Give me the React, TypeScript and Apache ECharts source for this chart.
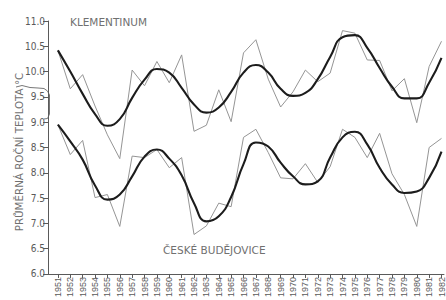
import React, { useEffect, useRef } from "react";
import * as echarts from "echarts";

const years = [1951,1952,1953,1954,1955,1956,1957,1958,1959,1960,1961,1962,1963,1964,1965,1966,1967,1968,1969,1970,1971,1972,1973,1974,1975,1976,1977,1978,1979,1980,1981,1982];

const klementinumAnnual = [10.42,9.66,9.94,9.32,8.75,8.28,10.03,9.72,10.2,9.78,10.33,8.82,8.94,9.64,9.01,10.37,10.63,9.85,9.3,9.6,10.03,9.8,9.97,10.81,10.76,10.23,10.22,9.62,9.86,8.99,10.1,10.6];
const klementinumSmooth = [10.42,10.0,9.56,9.16,8.93,9.06,9.48,9.84,10.05,9.98,9.68,9.35,9.19,9.29,9.6,9.98,10.13,9.98,9.66,9.52,9.58,9.85,10.29,10.68,10.72,10.47,10.07,9.7,9.47,9.47,9.78,10.27];

const budejoviceAnnual = [8.95,8.36,8.64,7.51,7.57,6.94,8.33,8.3,8.46,8.1,8.3,6.78,6.95,7.4,7.33,8.7,8.86,8.4,7.9,7.88,8.18,7.81,8.12,8.86,8.7,8.3,8.78,7.98,7.57,6.94,8.5,8.68];
const budejoviceSmooth = [8.95,8.62,8.26,7.75,7.47,7.57,7.93,8.32,8.46,8.28,7.95,7.4,7.04,7.14,7.52,8.17,8.6,8.52,8.2,7.93,7.77,7.83,8.3,8.7,8.81,8.56,8.1,7.77,7.6,7.63,7.9,8.42];

const yTicks = [6.0,6.5,7.0,7.5,8.0,8.5,9.0,9.5,10.0,10.5,11.0];

const stationTop = "KLEMENTINUM";
const stationBottom = "ČESKÉ BUDĚJOVICE";
const yTitle = "PRŮMĚRNÁ ROČNÍ TEPLOTA °C";

const pairs = (vals: number[]) => years.map((y, i) => [y, vals[i]]);

export default function App() {
  const ref = useRef<HTMLDivElement>(null);
  useEffect(() => {
    if (!ref.current) return;
    const chart = echarts.init(ref.current, null, { renderer: "svg" });
    const axisColor = "#5a5a5a";
    const labelFont = "'Liberation Sans Narrow', 'DejaVu Sans Condensed', 'Liberation Sans', sans-serif";
    const thin = { type: "line", symbol: "none", smooth: false, lineStyle: { width: 1, color: "#959595" }, z: 2 };
    const thick = { type: "line", symbol: "none", smooth: 0.5, lineStyle: { width: 2.1, color: "#1c1c1c" }, z: 3 };
    chart.setOption({
      animation: false,
      backgroundColor: "#ffffff",
      grid: { left: 48, right: 0, top: 21, bottom: 25 },
      xAxis: {
        type: "value",
        min: 1950.2,
        max: 1982.2,
        axisLine: { show: true, lineStyle: { color: axisColor, width: 1 } },
        axisTick: { show: true, customValues: years, length: 4, lineStyle: { color: axisColor } },
        axisLabel: {
          customValues: years,
          rotate: 90,
          fontSize: 9,
          margin: 3,
          color: "#5a5a5a",
          fontFamily: "'Liberation Sans', sans-serif",
          formatter: (v: number) => String(Math.round(v)),
        },
        splitLine: { show: false },
      },
      yAxis: {
        type: "value",
        min: 6,
        max: 11,
        interval: 0.5,
        axisLine: { show: true, lineStyle: { color: axisColor, width: 1 } },
        axisTick: { show: true, length: 5, lineStyle: { color: axisColor } },
        axisLabel: {
          customValues: yTicks,
          fontSize: 10,
          margin: 3,
          color: "#5a5a5a",
          fontFamily: labelFont,
          formatter: (v: number) => v.toFixed(1),
        },
        splitLine: { show: false },
      },
      graphic: [
        {
          type: "text",
          left: 70,
          top: 16,
          style: { text: stationTop, fontSize: 10.5, fill: "#707070", fontFamily: "'DejaVu Sans', sans-serif" },
        },
        {
          type: "text",
          left: 163,
          top: 244,
          style: { text: stationBottom, fontSize: 10.5, fill: "#707070", fontFamily: "'DejaVu Sans', sans-serif" },
        },
        {
          type: "text",
          x: 19,
          y: 152,
          rotation: Math.PI / 2,
          style: {
            text: yTitle,
            fontSize: 10.3,
            fill: "#707070",
            align: "center",
            verticalAlign: "middle",
            fontFamily: "'DejaVu Sans', sans-serif",
          },
        },
        {
          type: "polyline",
          shape: { points: [[16, 87], [22, 85.5], [30, 87.5], [38, 88], [44, 88.5], [47.5, 91], [49.5, 95], [49.5, 114], [47.5, 118.5], [44, 119]] },
          style: { stroke: "#777", lineWidth: 1, fill: null },
        },
      ],
      series: [
        { ...thin, name: "Klementinum roční", data: pairs(klementinumAnnual) },
        { ...thick, name: "Klementinum vyhlazená", data: pairs(klementinumSmooth) },
        { ...thin, name: "České Budějovice roční", data: pairs(budejoviceAnnual) },
        { ...thick, name: "České Budějovice vyhlazená", data: pairs(budejoviceSmooth) },
      ],
    });
    return () => chart.dispose();
  }, []);
  return (
    <div
      ref={ref}
      style={{ position: "fixed", left: 0, top: 0, width: 446, height: 300, background: "#fff" }}
    />
  );
}
